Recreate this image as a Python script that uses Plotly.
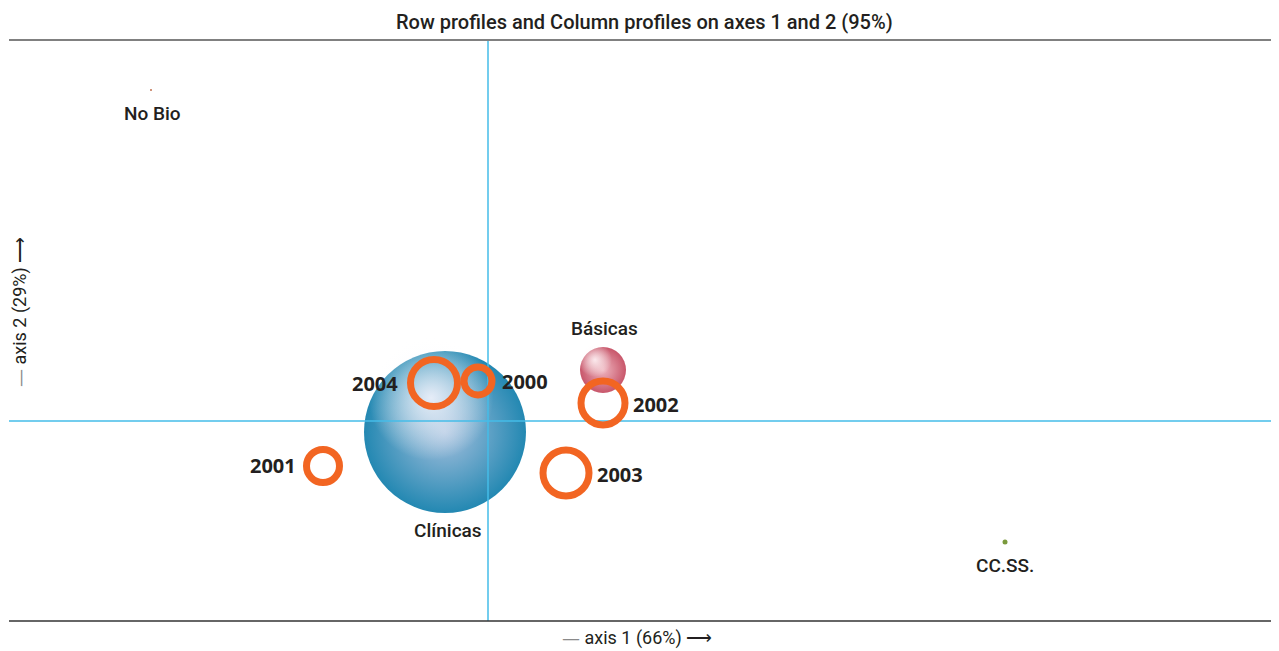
import plotly.graph_objects as go

# ---------------- data ----------------
col_names = ["No Bio", "Clínicas", "Básicas", "CC.SS."]
col_x = [-0.674, -0.086, 0.230, 1.034]
col_y = [0.662, -0.022, 0.102, -0.242]

row_names = ["2000", "2001", "2002", "2003", "2004"]
row_x = [-0.020, -0.330, 0.230, 0.156, -0.108]
row_y = [0.080, -0.090, 0.036, -0.104, 0.076]

title_text = "Row profiles and Column profiles on axes 1 and 2 (95%)"
axis1_label = "axis 1 (66%)"
axis2_label = "axis 2 (29%)"

# ---------------- styles ----------------
PX = 500.0  # pixels per data unit (both axes)
x_range = [-479 / PX, 791 / PX]
y_range = [-200 / PX, 381 / PX]

FONT = "Liberation Sans Narrow, Roboto, Arial Narrow, sans-serif"
BOLD_FONT = "Open Sans, Roboto, sans-serif"
ORANGE = "#f26522"
CYAN = "#45bde8"

fig = go.Figure()

# spheres (Clínicas, Básicas): base + highlight
sphere_idx = [1, 2]
sphere_size = {1: 162, 2: 46}
sphere_edge = {1: "#2388b2", 2: "#c8566a"}
sphere_mid = {1: "#a7c0de", 2: "#eeb4be"}
sphere_hl = {1: "rgba(236,240,250,0.95)", 2: "rgba(253,238,241,0.95)"}
sphere_hl_off = {1: (-14, 34), 2: (-8, 10)}
sphere_hl_size = {1: 125, 2: 34}

for i in sphere_idx:
    fig.add_trace(go.Scatter(
        x=[col_x[i]], y=[col_y[i]], mode="markers", hoverinfo="skip",
        marker=dict(size=sphere_size[i], color=sphere_edge[i], opacity=1,
                    gradient=dict(type="radial", color=sphere_mid[i]),
                    line=dict(width=0)),
        showlegend=False))
    dx, dy = sphere_hl_off[i]
    fig.add_trace(go.Scatter(
        x=[col_x[i] + dx / PX], y=[col_y[i] + dy / PX], mode="markers",
        hoverinfo="skip",
        marker=dict(size=sphere_hl_size[i], color="rgba(255,255,255,0)",
                    opacity=1,
                    gradient=dict(type="radial", color=sphere_hl[i]),
                    line=dict(width=0)),
        showlegend=False))

# small dots (No Bio, CC.SS.)
dot_idx = [0, 3]
dot_color = {0: "#c0704f", 3: "#7a9a3c"}
dot_size = {0: 2, 3: 5}
for i in dot_idx:
    fig.add_trace(go.Scatter(
        x=[col_x[i]], y=[col_y[i]], mode="markers",
        marker=dict(size=dot_size[i], color=dot_color[i], opacity=1,
                    line=dict(width=0)),
        showlegend=False))

# axis lines through origin (drawn above spheres, below rings)
fig.add_trace(go.Scatter(x=[0, 0], y=y_range, mode="lines", hoverinfo="skip",
                         line=dict(color=CYAN, width=1.5), showlegend=False))
fig.add_trace(go.Scatter(x=x_range, y=[0, 0], mode="lines", hoverinfo="skip",
                         line=dict(color=CYAN, width=1.5), showlegend=False))

# rings (years)
ring_size = [28, 33, 44, 46, 47]
fig.add_trace(go.Scatter(
    x=row_x, y=row_y, mode="markers",
    marker=dict(size=ring_size, color="rgba(0,0,0,0)", opacity=1,
                line=dict(color=ORANGE, width=7)),
    showlegend=False))

# ---------------- labels ----------------
col_label_shift = [(1, -23), (3, -98), (1, 42), (0, -23)]
for name, x, y, (sx, sy) in zip(col_names, col_x, col_y, col_label_shift):
    fig.add_annotation(x=x, y=y, text=name, showarrow=False,
                       xshift=sx, yshift=sy, xanchor="center", yanchor="middle",
                       font=dict(family=FONT, size=19, color="#231f20",
                                 weight=500))

row_label_anchor = ["left", "right", "left", "left", "right"]
row_label_shift = [(22, 0), (-25, 1), (28, -1), (29, -1), (-34, 0)]
for name, x, y, anc, (sx, sy) in zip(row_names, row_x, row_y,
                                      row_label_anchor, row_label_shift):
    fig.add_annotation(x=x, y=y, text="<b>" + name + "</b>", showarrow=False,
                       xshift=sx, yshift=sy, xanchor=anc, yanchor="middle",
                       font=dict(family=BOLD_FONT, size=20, color="#231f20",
                                 weight=800))

# title
fig.add_annotation(xref="paper", yref="paper", x=0.5, y=1, yshift=18,
                   text=title_text, showarrow=False, xanchor="center",
                   yanchor="middle",
                   font=dict(family=FONT, size=20, color="#231f20",
                             weight=500))

# axis titles
DASH = "<span style='color:#8a8a8a;font-family:DejaVu Sans'>—</span> "
fig.add_annotation(xref="paper", yref="paper", x=(637 - 9) / 1270, y=0,
                   yshift=-17, showarrow=False, xanchor="center",
                   yanchor="middle",
                   text=DASH + axis1_label + " ⟶",
                   font=dict(family=FONT, size=18, color="#231f20"))
fig.add_annotation(xref="paper", yref="paper", x=0, xshift=11,
                   y=(621 - 312) / 581, showarrow=False, textangle=-90,
                   xanchor="center", yanchor="middle",
                   text=DASH + axis2_label + " ⟶",
                   font=dict(family=FONT, size=18, color="#231f20"))

# frame lines
fig.add_shape(type="line", xref="paper", yref="paper", x0=0, x1=1, y0=1, y1=1,
              line=dict(color="#808080", width=2))
fig.add_shape(type="line", xref="paper", yref="paper", x0=0, x1=1, y0=0, y1=0,
              line=dict(color="#333333", width=1.5))

fig.update_xaxes(range=x_range, showgrid=False, zeroline=False,
                 showticklabels=False, showline=False, fixedrange=True)
fig.update_yaxes(range=y_range, showgrid=False, zeroline=False,
                 showticklabels=False, showline=False, fixedrange=True)

# page body has an 8px margin: size and margins compensate for it
fig.update_layout(width=1271, height=643, autosize=False,
                  margin=dict(l=1, r=0, t=32, b=30),
                  paper_bgcolor="white", plot_bgcolor="white",
                  showlegend=False)

fig.write_html("out.html", config={"displayModeBar": False})
